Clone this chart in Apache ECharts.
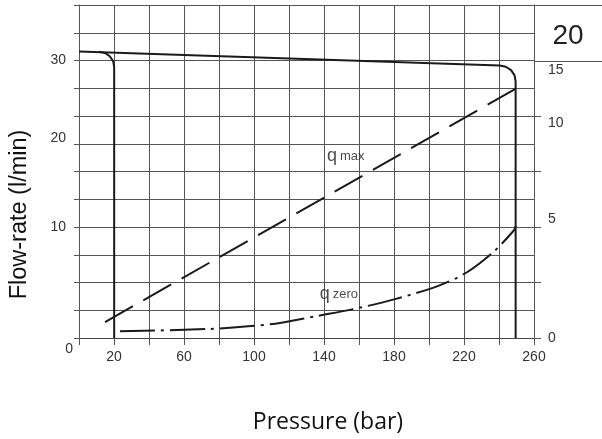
<!DOCTYPE html>
<html><head><meta charset="utf-8">
<script src="https://cdn.jsdelivr.net/npm/echarts@6/dist/echarts.min.js"></script>
<style>html,body{margin:0;padding:0;background:#fff}#c{width:602px;height:439px}</style>
</head><body><div id="c"></div>
<script>
// ---- data ----
const xLabelValues = [20, 60, 100, 140, 180, 220, 260];
const leftLabels = ['0', '10', '20', '30'];
const leftLabelAt = [0, 10, 18, 25];
const rightLabels = ['0', '5', '10', '15'];
const rightLabelAt = [0, 5.35, 9.7, 12.05];
const rightTickAt = [0, 2.5, 5, 7.5, 10];
// pressure (bar), flow (l/min)
const maxFlowCurve = [[0, 25.8], [240.4, 24.55], [243.9, 24.44], [246.9, 24.13], [248.9, 23.66], [249.5, 23.11], [249.5, 0]];
const lowCutoffCurve = [[11.4, 25.78], [14.8, 25.68], [17.6, 25.38], [19.5, 24.94], [20.1, 24.43], [20.1, 0]];
const qMax = [[14.9, 1.44], [249.5, 22.45]];
const qZero = [[23.4, 0.6], [73.7, 0.81], [96.6, 1.05], [114.9, 1.35], [134.9, 1.95], [156.7, 2.6], [180.6, 3.5], [205.3, 4.7], [221.5, 5.9], [236.8, 7.75], [248.2, 9.64], [249.7, 10.1]];
const displacement = '20';

const FONT = 'Liberation Sans, Arial, sans-serif';
const GRID = '#555555';
const INK = '#1a1a1a';

const chart = echarts.init(document.getElementById('c'));
function pick(labels, at, v) {
  for (let i = 0; i < at.length; i++) if (Math.abs(at[i] - v) < 1e-6) return labels[i];
  return '';
}
const qRich = {
  q: { fontSize: 18, fontFamily: FONT, color: INK, verticalAlign: 'middle', padding: [0, 3, 0, 0] },
  s: { fontSize: 13, fontFamily: FONT, color: INK, verticalAlign: 'middle' }
};
const option = {
  animation: false,
  grid: { left: 79, right: 68, top: 5, bottom: 100 },
  xAxis: {
    type: 'value', min: 0, max: 260, interval: 20,
    axisLine: { show: true, onZero: false, lineStyle: { color: '#444' } },
    axisTick: { show: true, length: 7, lineStyle: { color: GRID } },
    axisLabel: { formatter: v => xLabelValues.includes(v) ? String(v) : '', margin: 12, color: '#333', fontSize: 14, fontFamily: FONT },
    splitLine: { show: true, lineStyle: { color: GRID, width: 1 } },
    name: 'Pressure (bar)', nameLocation: 'middle', nameGap: 73,
    nameTextStyle: { fontFamily: 'Open Sans, sans-serif', fontSize: 23, color: '#111', padding: [0, 0, 0, 43] }
  },
  yAxis: [{
    type: 'value', min: 0, max: 30, interval: 2.5,
    axisLine: { show: true, lineStyle: { color: GRID } },
    axisTick: { show: true, length: 5, lineStyle: { color: GRID } },
    axisLabel: {
      customValues: leftLabelAt, margin: 6, color: '#333', fontSize: 14, fontFamily: FONT,
      formatter: v => { const t = pick(leftLabels, leftLabelAt, v); return v === 0 ? '{z|' + t + '}' : '{n|' + t + '}'; },
      rich: { n: { padding: [0, 7, 0, 0], fontSize: 14, fontFamily: FONT, color: '#333' }, z: { padding: [22, 0, 0, 0], fontSize: 14, fontFamily: FONT, color: '#333' } }
    },
    splitLine: { show: true, lineStyle: { color: GRID, width: 1 } },
    name: 'Flow-rate (l/min)', nameLocation: 'middle', nameGap: 47, nameRotate: 90,
    nameTextStyle: { fontFamily: FONT, fontSize: 23.5, color: '#111', padding: [0, 86, 0, 0] }
  }, {
    type: 'value', min: 0, max: 15, interval: 1.25, position: 'right',
    axisLine: { show: true, lineStyle: { color: GRID } },
    axisTick: { show: true, length: 7, customValues: rightTickAt, lineStyle: { color: GRID } },
    axisLabel: { customValues: rightLabelAt, margin: 14, color: '#333', fontSize: 14, fontFamily: FONT, formatter: v => pick(rightLabels, rightLabelAt, v) },
    splitLine: { show: false }
  }],
  series: [
    { type: 'line', data: maxFlowCurve, showSymbol: false, symbol: 'none', lineStyle: { color: INK, width: 2 } },
    { type: 'line', data: lowCutoffCurve, showSymbol: false, symbol: 'none', lineStyle: { color: INK, width: 2 } },
    { type: 'line', data: qMax, showSymbol: false, symbol: 'none', lineStyle: { color: INK, width: 2, type: [32, 12] } },
    { type: 'line', data: qZero, showSymbol: false, symbol: 'none', smooth: 0.3, lineStyle: { color: INK, width: 2, type: [35, 6, 3, 6] } },
    { type: 'scatter', symbolSize: 0, silent: true, data: [[152.4, 16.35]],
      label: { show: true, position: 'inside', formatter: '{q|q}{s|max}', rich: qRich } },
    { type: 'scatter', symbolSize: 0, silent: true, data: [[148.5, 3.95]],
      label: { show: true, position: 'inside', formatter: '{q|q}{s|zero}', rich: qRich } }
  ]
};
chart.setOption(option);
const pTop = chart.convertToPixel({ xAxisIndex: 0, yAxisIndex: 0 }, [260, 30]);
const pMid = chart.convertToPixel({ xAxisIndex: 0, yAxisIndex: 0 }, [260, 25]);
const y1 = Math.round(pTop[1]) + 0.5, y2 = Math.round(pMid[1]) + 0.5;
chart.setOption({ graphic: [
  { type: 'line', shape: { x1: pTop[0], y1: y1, x2: 602, y2: y1 }, style: { stroke: GRID, lineWidth: 1 } },
  { type: 'line', shape: { x1: pMid[0], y1: y2, x2: 602, y2: y2 }, style: { stroke: GRID, lineWidth: 1 } },
  { type: 'text', x: (pTop[0] + 602) / 2, y: (y1 + y2) / 2 + 3,
    style: { text: displacement, font: '28px ' + FONT, fill: '#222', align: 'center', verticalAlign: 'middle', textAlign: 'center', textVerticalAlign: 'middle' } }
] });
</script></body></html>
